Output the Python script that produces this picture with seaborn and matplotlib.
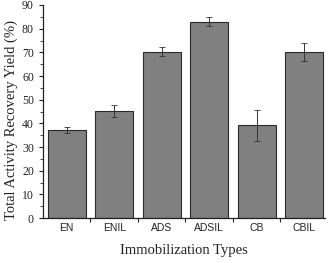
import matplotlib
matplotlib.use("Agg")
import matplotlib.pyplot as plt
import seaborn as sns
import pandas as pd
from matplotlib.ticker import MultipleLocator, FixedLocator

categories = ["EN", "ENIL", "ADS", "ADSIL", "CB", "CBIL"]
values = [37.2, 45.2, 70.3, 83.0, 39.2, 70.0]
errors = [1.3, 2.5, 1.8, 2.0, 6.5, 3.8]

sns.set_style("ticks")
df = pd.DataFrame({"type": categories, "yield": values})

fig = plt.figure(figsize=(3.33, 2.63), dpi=100)
ax = fig.add_axes([0.129, 0.171, 0.847, 0.81])
sns.barplot(data=df, x="type", y="yield", color="#808080", saturation=1,
            edgecolor="#2a2a2a", linewidth=0.8, width=0.8, errorbar=None, ax=ax)
ax.errorbar(range(len(categories)), values, yerr=errors, fmt="none",
            ecolor="#333333", elinewidth=0.7, capsize=2, capthick=0.6)

ax.set_ylim(0, 90)
ax.set_xlim(-0.5, 5.44)
ax.yaxis.set_major_locator(MultipleLocator(10))
ax.yaxis.set_minor_locator(MultipleLocator(5))
ax.xaxis.set_minor_locator(FixedLocator([0.5, 1.5, 2.5, 3.5, 4.5]))
ax.tick_params(axis="both", which="major", length=3, width=0.8, color="#222222")
ax.tick_params(axis="y", which="minor", length=2, width=0.6)
ax.tick_params(axis="x", which="major", length=0)
ax.tick_params(axis="x", which="minor", length=3, width=0.8)
for lab in ax.get_yticklabels():
    lab.set_fontfamily("Liberation Serif")
    lab.set_fontsize(8.5)
    lab.set_color("#222222")
for lab in ax.get_xticklabels():
    lab.set_fontfamily("Liberation Sans")
    lab.set_fontsize(7.5)
    lab.set_color("#222222")
ax.set_xlabel("Immobilization Types", fontfamily="Liberation Serif", fontsize=10.5, color="#222222", labelpad=8)
ax.set_ylabel("Total Activity Recovery Yield (%)", fontfamily="Liberation Serif", fontsize=10.5, color="#222222")
ax.yaxis.set_label_coords(-0.09, 0.46)
sns.despine(ax=ax)
for s in ["left", "bottom"]:
    ax.spines[s].set_linewidth(0.9)
    ax.spines[s].set_color("#222222")
fig.savefig("out.png", dpi=100)
